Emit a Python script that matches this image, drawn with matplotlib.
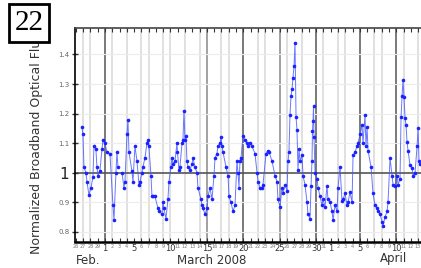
import matplotlib
matplotlib.use('Agg')
import matplotlib.pyplot as plt
import matplotlib.transforms as mtransforms
import numpy as np
import datetime as dt

# days counted from 1 March 2008 (0 = Mar 1)
day = [-3.16, -3.02, -2.88, -2.61, -2.47, -2.20, -1.92, -1.65, -1.51, -1.24, -1.10, -0.96,
       -0.69, -0.41, -0.27, 0.00, 0.27, 0.69, 1.10, 1.24, 1.51, 1.65, 1.79, 2.34, 2.61, 2.75,
       3.02, 3.16, 3.30, 3.71, 3.85, 4.12, 4.40, 4.67,
       4.81, 5.08, 5.22, 5.49, 5.77, 5.91, 6.04, 6.32, 6.46, 6.59, 6.87, 7.28, 7.42, 7.83,
       7.97, 8.10, 8.38, 8.65, 8.79, 9.07, 9.20, 9.34, 9.62, 9.89, 9.96, 10.16, 10.30, 10.58,
       10.71, 10.85, 10.99, 11.13, 11.26, 11.40, 11.68, 11.95, 12.09, 12.36, 12.64, 12.77,
       13.19, 13.32, 13.46, 13.74, 14.01, 14.15, 14.42, 14.70, 14.97, 15.11, 15.38, 15.52,
       15.80, 15.93, 16.07, 16.21, 16.62, 16.90, 17.03, 17.31, 17.58, 17.86, 18.13, 18.27,
       18.41, 18.54, 18.68, 18.96, 19.23, 19.51, 19.64, 19.92, 20.19, 20.60, 20.88, 21.02,
       21.29, 21.57, 21.70, 22.12, 22.39, 22.53, 22.94, 23.35, 23.63, 23.76,
       24.04, 24.31, 24.45, 24.73, 25.00, 25.14, 25.27, 25.41, 25.55, 25.69, 25.82, 25.96,
       26.10, 26.24, 26.37, 26.51, 26.65, 26.79, 27.06, 27.20, 27.47, 27.75, 27.88, 28.16,
       28.30, 28.43, 28.50, 28.57, 28.64, 28.71, 28.85, 29.12, 29.26, 29.53, 29.81, 29.95,
       30.22, 30.49, 30.63, 30.91, 31.18, 31.32, 31.59, 31.87, 32.01, 32.28, 32.55, 32.69,
       32.97, 33.24, 33.38, 33.65, 33.93, 34.07, 34.34, 34.62, 34.75, 35.03, 35.30, 35.44,
       35.71, 35.85, 35.99, 36.13, 36.54, 36.81, 37.09, 37.36, 37.50, 37.77, 38.05, 38.19,
       38.46, 38.74, 38.87, 39.15, 39.42, 39.56, 39.84, 40.11, 40.25, 40.52, 40.66, 40.80,
       40.93, 41.07, 41.21, 41.35, 41.48, 41.62, 41.90, 42.17, 42.31, 42.58, 42.86, 43.00,
       43.13, 43.27]

flux = [1.155, 1.13, 1.02, 1.00, 0.97, 0.925, 0.95, 0.985, 1.09, 1.08, 1.02, 0.99,
        1.005, 1.08, 1.11, 1.10, 1.07, 1.065, 0.89, 0.84, 1.00, 1.07, 1.02, 1.00, 0.95, 0.97,
        1.13, 1.18, 1.07, 1.005, 0.97, 1.09, 1.04, 0.96,
        0.97, 1.00, 1.02, 1.05, 1.10, 1.11, 1.09, 0.99, 0.92, 0.92, 0.92, 0.88, 0.87, 0.86,
        0.90, 0.88, 0.845, 0.91, 0.97, 1.02, 1.05, 1.03, 1.04, 1.10, 1.07, 1.01, 1.02, 1.10,
        1.11, 1.21, 1.11, 1.125, 1.04, 1.02, 1.01, 1.03, 1.05, 1.02, 1.00, 0.95,
        0.91, 0.89, 0.88, 0.86, 0.88, 0.92, 0.95, 0.91, 0.99, 1.05, 1.065, 1.09,
        1.10, 1.12, 1.09, 1.07, 1.02, 0.99, 0.92, 0.90, 0.87, 0.89, 1.04, 1.00,
        0.95, 1.04, 1.05, 1.125, 1.11, 1.10, 1.09, 1.10, 1.09, 1.065, 1.00, 0.97,
        0.95, 0.95, 0.96, 1.065, 1.075, 1.07, 1.04, 0.99, 0.97, 0.91,
        0.885, 0.95, 0.93, 0.96, 0.94, 1.04, 1.07, 1.195, 1.26, 1.285, 1.32, 1.36,
        1.44, 1.19, 1.145, 1.01, 1.08, 1.04, 1.06, 0.99, 0.96, 0.90, 0.86, 0.845,
        0.955, 1.04, 1.14, 1.175, 1.225, 1.12, 1.00, 0.98, 0.95, 0.92, 0.89, 0.91,
        0.885, 0.955, 0.91, 0.90, 0.87, 0.84, 0.89, 0.87, 0.95, 1.02, 0.905, 0.91,
        0.93, 0.89, 0.90, 0.935, 0.90, 1.06, 1.07, 1.09, 1.10, 1.13, 1.16, 1.10,
        1.195, 1.09, 1.155, 1.075, 1.02, 0.93, 0.89, 0.88, 0.87, 0.86, 0.835, 0.82,
        0.85, 0.87, 0.90, 1.05, 0.99, 0.96, 0.955, 0.99, 0.96, 0.98, 1.19, 1.26,
        1.315, 1.255, 1.185, 1.16, 1.105, 1.075, 1.025, 1.015, 0.99, 1.00, 1.09, 1.15,
        1.04, 1.03]

# vertical reference lines (days from Mar 1)
dark_days = [0, 19, 29, 35, 40]
mid_days = [14, 24]
light_days = [-3, -2, 1, 3, 5, 6, 8, 9, 11, 13, 16, 17, 21, 22, 25, 27, 30, 32, 33, 37, 38, 41, 43]

yticks = [0.8, 0.9, 1.0, 1.1, 1.2, 1.3, 1.4]
ytick_labels = ['0.8', '0.9', '1', '1.1', '1.2', '1.3', '1.4']

fig = plt.figure(figsize=(4.21, 2.68), dpi=100)
ax = fig.add_axes([0.178, 0.097, 0.822, 0.799])

for d in light_days:
    ax.axvline(d, color='#dddddd', lw=1.3, zorder=0)
for d in mid_days:
    ax.axvline(d, color='#888888', lw=1.1, zorder=0)
for d in dark_days:
    ax.axvline(d, color='#555555', lw=1.1, zorder=0)
for y in yticks:
    if y != 1.0:
        ax.axhline(y, color='#ececec', lw=0.8, zorder=0)
ax.axhline(1.0, color='#555555', lw=1.2, zorder=1)

# break the line between separate nights
d_arr = np.array(day)
f_arr = np.array(flux)
brk = np.where(np.diff(d_arr) > 0.5)[0] + 1
xs = np.insert(d_arr, brk, np.nan)
ys = np.insert(f_arr, brk, np.nan)
ax.plot(xs, ys, color='#4455ff', lw=0.7, alpha=0.8, zorder=2)
ax.plot(d_arr, f_arr, 'o', color='#1a22ff', ms=2.6, mec='none', zorder=3)

ax.set_xlim(-4.12, 43.4)
ax.set_ylim(0.766, 1.49)

# daily ticks with day-of-month labels
start = dt.date(2008, 2, 26)
tick_pos = list(range(-4, 44))
tick_lab = [str((start + dt.timedelta(days=i)).day) for i in range(len(tick_pos))]
ax.set_xticks(tick_pos)
ax.set_xticklabels(tick_lab)
for lab, txt in zip(ax.get_xticklabels(), tick_lab):
    if txt in ('1', '5', '10', '15', '20', '25', '30'):
        lab.set_fontsize(6)
        lab.set_color('#333333')
    else:
        lab.set_fontsize(3.5)
        lab.set_color('#777777')
ax.tick_params(axis='x', direction='in', length=3, width=0.8, pad=1.5,
               top=True, color='#333333')

ax.set_yticks(yticks)
ax.set_yticklabels(ytick_labels)
for lab, txt in zip(ax.get_yticklabels(), ytick_labels):
    if txt == '1':
        lab.set_fontsize(11)
        lab.set_color('#222222')
    else:
        lab.set_fontsize(5)
        lab.set_color('#666666')
ax.tick_params(axis='y', direction='inout', length=4, width=1, pad=2, color='#333333')

ax.spines['right'].set_visible(False)
ax.spines['bottom'].set_linewidth(1.8)
ax.spines['left'].set_linewidth(1.2)
ax.spines['top'].set_linewidth(1.2)
ax.spines['top'].set_color('#444444')

ax.set_ylabel('Normalized Broadband Optical Flux', fontsize=9, color='#333333')
ax.yaxis.set_label_coords(-0.092, 0.46)

trans = mtransforms.blended_transform_factory(ax.transData, ax.transAxes)
ax.text(-2.3, -0.085, 'Feb.', transform=trans, ha='center', va='center', fontsize=8.5, color='#333333')
ax.text(14.7, -0.085, 'March 2008', transform=trans, ha='center', va='center', fontsize=8.5, color='#333333')
ax.text(39.6, -0.075, 'April', transform=trans, ha='center', va='center', fontsize=8.5, color='#333333')

fig.text(29 / 421, 1 - 23 / 268, '22', ha='center', va='center', fontsize=21,
         family='Liberation Serif',
         bbox=dict(boxstyle='square,pad=0.2', fc='white', ec='black', lw=2))

fig.savefig('out.png', dpi=100)
